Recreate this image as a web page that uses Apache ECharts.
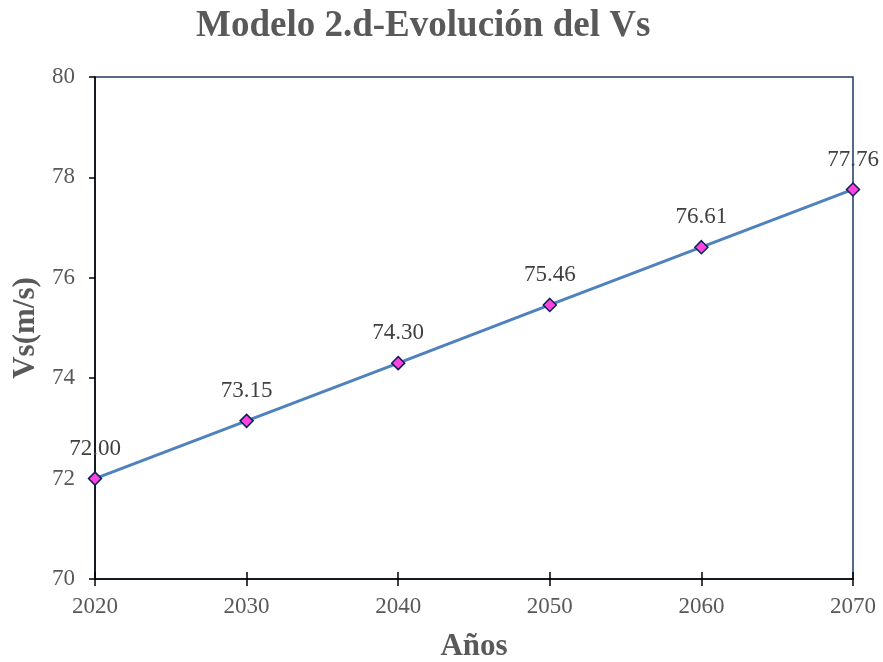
<!DOCTYPE html>
<html>
<head>
<meta charset="utf-8">
<script src="https://cdn.jsdelivr.net/npm/echarts@6/dist/echarts.min.js"></script>
<style>
  html, body { margin: 0; padding: 0; background: #fff; }
  #chart { width: 883px; height: 662px; }
</style>
</head>
<body>
<div id="chart"></div>
<script>
// Years on the horizontal axis and the Vs values for each one
const years = [2020, 2030, 2040, 2050, 2060, 2070];
const vsValues = [72.00, 73.15, 74.30, 75.46, 76.61, 77.76];
const yTicks = [70, 72, 74, 76, 78, 80];

const chart = echarts.init(document.getElementById('chart'));
const serif = '"Liberation Serif", "Times New Roman", serif';

chart.setOption({
  backgroundColor: '#ffffff',
  animation: false,
  title: {
    text: 'Modelo 2.d-Evolución del Vs',
    left: 191,
    top: 3,
    textStyle: { fontFamily: serif, fontWeight: 'bold', fontSize: 37, color: '#595959' }
  },
  grid: {
    left: 95, right: 30, top: 77, bottom: 83,
    outerBoundsMode: 'none',
    show: true, borderColor: '#1f3864', borderWidth: 1.5
  },
  xAxis: [{
    type: 'value',
    min: years[0], max: years[years.length - 1], interval: 10,
    name: 'Años', nameLocation: 'middle', nameGap: 52,
    nameTextStyle: { fontFamily: serif, fontWeight: 'bold', fontSize: 31, color: '#595959' },
    axisLine: { show: true, lineStyle: { color: '#000', width: 1.5 } },
    axisTick: { show: true, length: 7, lineStyle: { color: '#000', width: 1.5 } },
    axisLabel: { fontFamily: serif, fontSize: 23, color: '#595959', margin: 16, formatter: v => String(v) },
    splitLine: { show: false }
  }, {
    // inner half of the crossing x ticks
    type: 'value', position: 'bottom',
    min: years[0], max: years[years.length - 1], interval: 10,
    axisLine: { show: false },
    axisTick: { show: true, inside: true, length: 7, lineStyle: { color: '#000', width: 1.5 } },
    axisLabel: { show: false },
    splitLine: { show: false }
  }],
  yAxis: {
    type: 'value',
    min: yTicks[0], max: yTicks[yTicks.length - 1], interval: 2,
    name: 'Vs(m/s)', nameLocation: 'middle', nameGap: 46,
    nameTextStyle: { fontFamily: serif, fontWeight: 'bold', fontSize: 31, color: '#595959' },
    axisLine: { show: true, lineStyle: { color: '#000', width: 1.5 } },
    axisTick: { show: true, length: 6, lineStyle: { color: '#000', width: 1.5 } },
    axisLabel: { fontFamily: serif, fontSize: 23, color: '#595959', margin: 20 },
    splitLine: { show: false }
  },
  series: [{
    type: 'line',
    data: years.map((y, i) => [y, vsValues[i]]),
    symbol: 'diamond',
    symbolSize: 13,
    lineStyle: { color: '#4f81bd', width: 3 },
    itemStyle: { color: '#ff44dd', borderColor: '#0d1f5c', borderWidth: 1.5 },
    label: {
      show: true, position: 'top', distance: 11,
      fontFamily: serif, fontSize: 23, color: '#404040',
      formatter: p => p.value[1].toFixed(2)
    },
    clip: false,
    z: 3
  }]
});
</script>
</body>
</html>
